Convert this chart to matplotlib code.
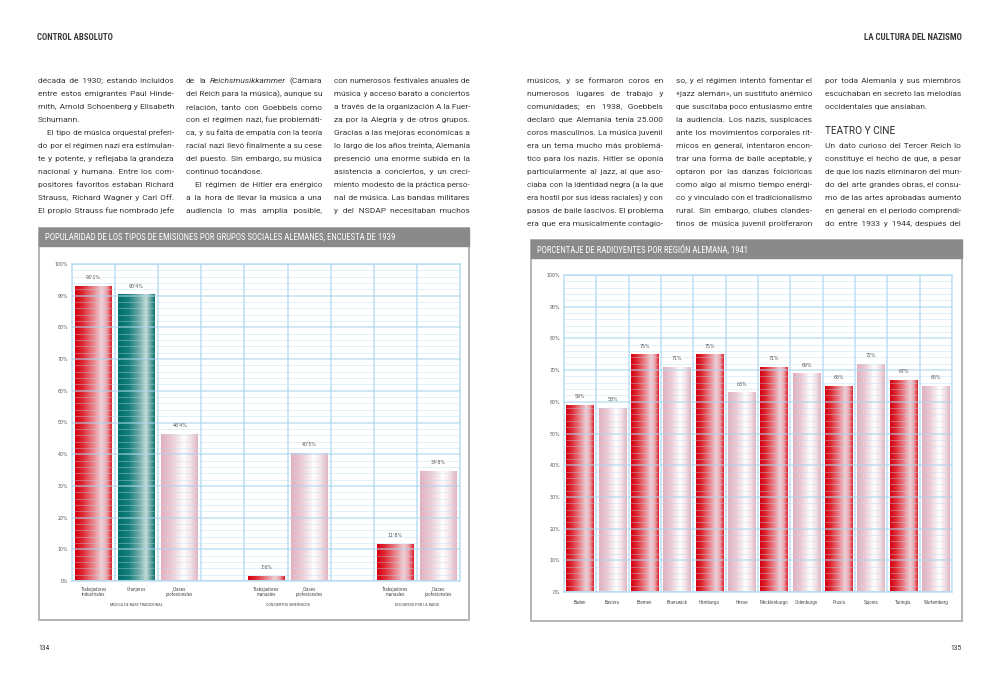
import numpy as np
import matplotlib
matplotlib.use('Agg')
import matplotlib.pyplot as plt
from matplotlib.colors import LinearSegmentedColormap
from matplotlib.patches import Rectangle

W, H = 1000, 680

# ---------------- datos ----------------
grupos_cats = ['Trabajadores\nindustriales', 'Granjeros', 'Clases\nprofesionales',
               'Trabajadores\nmanuales', 'Clases\nprofesionales',
               'Trabajadores\nmanuales', 'Clases\nprofesionales']
grupos_vals = [93.1, 90.4, 46.4, 1.6, 40.5, 11.8, 34.8]
grupos_etiq = ["93'1%", "90'4%", "46'4%", "1'6%", "40'5%", "11'8%", "34'8%"]
grupos_pos = [0, 1, 2, 4, 5, 7, 8]
grupos_tipo = ['rojo', 'verde', 'rosa', 'rojo', 'rosa', 'rojo', 'rosa']
secciones = ['MÚSICA DE BASE TRADICIONAL', 'CONCIERTOS SINFÓNICOS', 'DISCURSOS POR LA RADIO']
secciones_pos = [1, 4.5, 7.5]

regiones = ['Baden', 'Baviera', 'Bremen', 'Brunswick', 'Hamburgo', 'Hesse',
            'Mecklenburgo', 'Oldenburgo', 'Prusia', 'Sajonia', 'Turingia', 'Wurtemberg']
oyentes = [59, 58, 75, 71, 75, 63, 71, 69, 65, 72, 67, 65]
regiones_tipo = ['rojo', 'rosa'] * 6

titulo1 = 'POPULARIDAD DE LOS TIPOS DE EMISIONES POR GRUPOS SOCIALES ALEMANES, ENCUESTA DE 1939'
titulo2 = 'PORCENTAJE DE RADIOYENTES POR REGIÓN ALEMANA, 1941'

# '\t' = sangria, '\n' final = linea sin justificar, *palabra* = cursiva
izq1 = ["década de 1930; estando incluidos",
        "entre estos emigrantes Paul Hinde-",
        "mith, Arnold Schoenberg y Elisabeth",
        "Schumann.\n",
        "\tEl tipo de música orquestal preferi-",
        "do por el régimen nazi era estimulan-",
        "te y potente, y reflejaba la grandeza",
        "nacional y humana. Entre los com-",
        "positores favoritos estaban Richard",
        "Strauss, Richard Wagner y Carl Off.",
        "El propio Strauss fue nombrado jefe"]
izq2 = ["de la *Reichsmusikkammer* (Cámara",
        "del Reich para la música), aunque su",
        "relación, tanto con Goebbels como",
        "con el régimen nazi, fue problemáti-",
        "ca, y su falta de empatía con la teoría",
        "racial nazi llevó finalmente a su cese",
        "del puesto. Sin embargo, su música",
        "continuó tocándose.\n",
        "\tEl régimen de Hitler era enérgico",
        "a la hora de llevar la música a una",
        "audiencia lo más amplia posible,"]
izq3 = ["con numerosos festivales anuales de",
        "música y acceso barato a conciertos",
        "a través de la organización A la Fuer-",
        "za por la Alegría y de otros grupos.",
        "Gracias a las mejoras económicas a",
        "lo largo de los años treinta, Alemania",
        "presenció una enorme subida en la",
        "asistencia a conciertos, y un creci-",
        "miento modesto de la práctica perso-",
        "nal de música. Las bandas militares",
        "y del NSDAP necesitaban muchos"]
der1 = ["músicos, y se formaron coros en",
        "numerosos lugares de trabajo y",
        "comunidades; en 1938, Goebbels",
        "declaró que Alemania tenía 25.000",
        "coros masculinos. La música juvenil",
        "era un tema mucho más problemá-",
        "tico para los nazis. Hitler se oponía",
        "particularmente al jazz, al que aso-",
        "ciaba con la identidad negra (a la que",
        "era hostil por sus ideas raciales) y con",
        "pasos de baile lascivos. El problema",
        "era que era musicalmente contagio-"]
der2 = ["so, y el régimen intentó fomentar el",
        "«jazz alemán», un sustituto anémico",
        "que suscitaba poco entusiasmo entre",
        "la audiencia. Los nazis, suspicaces",
        "ante los movimientos corporales rít-",
        "micos en general, intentaron encon-",
        "trar una forma de baile aceptable, y",
        "optaron por las danzas folclóricas",
        "como algo al mismo tiempo enérgi-",
        "co y vinculado con el tradicionalismo",
        "rural. Sin embargo, clubes clandes-",
        "tinos de música juvenil proliferaron"]
der3 = ["por toda Alemania y sus miembros",
        "escuchaban en secreto las melodías",
        "occidentales que ansiaban.\n",
        None,
        None,
        "Un dato curioso del Tercer Reich lo",
        "constituye el hecho de que, a pesar",
        "de que los nazis eliminaron del mun-",
        "do del arte grandes obras, el consu-",
        "mo de las artes aprobadas aumentó",
        "en general en el periodo comprendi-",
        "do entre 1933 y 1944, después del"]

CUERPO = ['Roboto', 'DejaVu Sans']
ESTRECHA = dict(family=['Noto Sans Condensed', 'DejaVu Sans Condensed',
                        'Roboto Condensed', 'Noto Sans', 'DejaVu Sans'],
                stretch='condensed')
GRIS = '#555555'
AZUL = '#c8e4f4'
TINTA = '#383838'
ANCHO_COL = 136
Y0, PASO = 83, 13.0

fig = plt.figure(figsize=(W / 100, H / 100), dpi=100)
fig.patch.set_facecolor('white')
rend = fig.canvas.get_renderer()


def fx(x):
    return x / W


def fy(y):
    return 1 - y / H


def ancho(t):
    return t.get_window_extent(rend).width


def ajustar(t, objetivo):
    t.set_fontsize(t.get_fontsize() * objetivo / ancho(t))
    return t


# tamano del cuerpo a partir de los anchos naturales de las lineas
prueba = fig.text(0, 0, '', fontsize=6, family=CUERPO)
naturales = []
for col in (izq1, izq2, izq3, der1, der2, der3):
    for linea in col:
        if linea is None or linea.endswith('\n'):
            continue
        prueba.set_text(linea.replace('*', '').strip())
        naturales.append(ancho(prueba) + (9 if linea.startswith('\t') else 0))
TAM = 6 * ANCHO_COL / np.percentile(naturales, 72)

# espacio fino para repartir el sobrante de cada linea justificada
prueba.set_fontsize(TAM)
prueba.set_text('xx')
base = ancho(prueba)
FINO, ANCHO_FINO = ' ', 2.0
for ch in ['\u200a', '\u2009', ' ']:
    prueba.set_text('x' + ch * 20 + 'x')
    a = (ancho(prueba) - base) / 20
    if a > 0.3:
        FINO, ANCHO_FINO = ch, a
        break
prueba.remove()


def linea_palabras(palabras, x0, y, disp):
    # linea con cursiva: un texto por palabra
    objs = []
    for p in palabras:
        estilo = 'normal'
        if p.startswith('*') and p.endswith('*'):
            p, estilo = p[1:-1], 'italic'
        objs.append(fig.text(0, 0, p, fontsize=TAM, family=CUERPO, style=estilo,
                             color=TINTA, va='baseline', ha='left'))
    anchos = [ancho(t) for t in objs]
    hueco = (disp - sum(anchos)) / (len(objs) - 1)
    x = x0
    for t, a in zip(objs, anchos):
        t.set_position((fx(x), fy(y)))
        x += a + hueco


def columna(lineas, x0, y0=Y0, paso=PASO):
    for i, linea in enumerate(lineas):
        if linea is None:
            continue
        sangria = 9 if linea.startswith('\t') else 0
        justificar = not linea.endswith('\n')
        palabras = linea.strip().split(' ')
        disp = ANCHO_COL - sangria
        y = y0 + paso * i
        if '*' in linea:
            linea_palabras(palabras, x0 + sangria, y, disp)
            continue
        t = fig.text(fx(x0 + sangria), fy(y), ' '.join(palabras), fontsize=TAM,
                     family=CUERPO, color=TINTA, va='baseline', ha='left')
        if not justificar or len(palabras) < 2:
            continue
        w = ancho(t)
        if w > disp:
            t.set_fontsize(TAM * disp / w)
            w = ancho(t)
        extra = disp - w
        huecos = len(palabras) - 1
        n = max(int(round(extra / ANCHO_FINO)), 0)
        texto = palabras[0]
        for k, p in enumerate(palabras[1:]):
            texto += ' ' + FINO * (n // huecos + (1 if k < n % huecos else 0)) + p
        t.set_text(texto)


def caja(x0, x1, y0, y1, titulo, ancho_tit):
    fig.add_artist(Rectangle((fx(x0), fy(y1)), (x1 - x0) / W, (y1 - y0) / H,
                             transform=fig.transFigure, facecolor='white',
                             edgecolor='#b4b4b4', lw=1.4, zorder=0))
    fig.add_artist(Rectangle((fx(x0), fy(y0 + 18)), (x1 - x0) / W, 18 / H,
                             transform=fig.transFigure, facecolor='#8a8a8a',
                             edgecolor='#8a8a8a', lw=1.0, zorder=0.1))
    t = fig.text(fx(x0 + 6), fy(y0 + 9.5), titulo, fontsize=7, color='white',
                 va='center', ha='left', **ESTRECHA)
    ajustar(t, ancho_tit)


degradados = {
    'rojo': LinearSegmentedColormap.from_list('rojo', [
        (0, '#d40010'), (0.2, '#df2630'), (0.5, '#ea848c'), (0.72, '#efd0d6'),
        (0.86, '#eca2aa'), (1, '#dc1a26')]),
    'verde': LinearSegmentedColormap.from_list('verde', [
        (0, '#006c68'), (0.3, '#17807b'), (0.58, '#74aea9'), (0.76, '#c4dbd8'),
        (0.88, '#6ba6a1'), (1, '#0a726d')]),
    'rosa': LinearSegmentedColormap.from_list('rosa', [
        (0, '#e2afbe'), (0.3, '#edcbd5'), (0.62, '#ffffff'), (0.82, '#f3dfe5'),
        (1, '#e0b3c0')]),
}
grad = np.linspace(0, 1, 256)[np.newaxis, :]


def grafico(ax, pos, vals, etiquetas, tipos, nslots, cats, tam_cat):
    barras = ax.bar(pos, vals, width=0.85, color='none', edgecolor='none', zorder=1.5)
    for b, t in zip(barras, tipos):
        x0 = b.get_x()
        im = ax.imshow(grad, cmap=degradados[t], aspect='auto', zorder=1.4,
                       extent=[x0, x0 + b.get_width(), 0, b.get_height()],
                       interpolation='bilinear')
        im.set_clip_path(b)
    for p, v, e in zip(pos, vals, etiquetas):
        ax.text(p, v + 1.8, e, ha='center', va='bottom', fontsize=3.4,
                color=GRIS, zorder=4)
    ax.set_xlim(-0.5, nslots - 0.5)
    ax.set_ylim(0, 100)
    ax.set_yticks(np.arange(0, 101, 10))
    ax.set_yticklabels([f'{v}%' for v in range(0, 101, 10)])
    ax.set_yticks(np.arange(0, 101, 2), minor=True)
    ax.set_axisbelow(False)
    ax.yaxis.grid(True, which='major', color='#a9d6ee', lw=1.3, alpha=0.6)
    ax.yaxis.grid(True, which='minor', color='#b4dcf0', lw=0.6, alpha=0.45)
    for xb in np.arange(-0.5, nslots):
        ax.axvline(xb, color=AZUL, lw=1.3, zorder=0.5)
    ax.set_xticks(pos)
    ax.set_xticklabels(cats, fontsize=tam_cat, color=GRIS, linespacing=1.0,
                       **ESTRECHA)
    ax.tick_params(which='both', length=0)
    ax.tick_params(axis='y', labelsize=3.4, labelcolor=GRIS, pad=3)
    ax.tick_params(axis='x', pad=4)
    for s in ax.spines.values():
        s.set_color(AZUL)
        s.set_linewidth(1.3)


# ---- cabeceras ----
t = fig.text(fx(37), fy(38), 'CONTROL ABSOLUTO', fontsize=6.6, weight='bold',
             color='#3a3a3a', va='center', ha='left', **ESTRECHA)
ajustar(t, 76)
t = fig.text(fx(962), fy(38), 'LA CULTURA DEL NAZISMO', fontsize=6.6, weight='bold',
             color='#3a3a3a', va='center', ha='right', **ESTRECHA)
ajustar(t, 98)
fig.text(fx(38), fy(649), '134', fontsize=5.4, color='#333333',
         va='center', ha='left', **ESTRECHA)
fig.text(fx(962), fy(649), '135', fontsize=5.4, color='#333333',
         va='center', ha='right', **ESTRECHA)

# ---- texto ----
columna(izq1, 38)
columna(izq2, 186)
columna(izq3, 334)
columna(der1, 527)
columna(der2, 676)
columna(der3, 825)
fig.text(fx(825), fy(Y0 + PASO * 5 - 13.5), 'TEATRO Y CINE', family=CUERPO,
         fontsize=TAM * 1.2, color='#2a2a2a', va='baseline', ha='left')

# ---- grafico 1 ----
caja(39, 469, 228, 620, titulo1, 358)
ax1 = fig.add_axes([fx(72), fy(581), 388 / W, 317 / H])
grafico(ax1, grupos_pos, grupos_vals, grupos_etiq, grupos_tipo, 9, grupos_cats, 3.7)
for s, p in zip(secciones, secciones_pos):
    ax1.text(p, -0.075, s, transform=ax1.get_xaxis_transform(), ha='center',
             va='center', fontsize=3.0, color='#444444', **ESTRECHA)

# ---- grafico 2 ----
caja(531, 962, 240, 621, titulo2, 214)
ax2 = fig.add_axes([fx(564), fy(592), 388 / W, 317 / H])
grafico(ax2, list(range(12)), oyentes, [f'{v}%' for v in oyentes], regiones_tipo,
        12, regiones, 3.7)
ax2.tick_params(axis='x', pad=6)

fig.savefig('out.png', dpi=100)
